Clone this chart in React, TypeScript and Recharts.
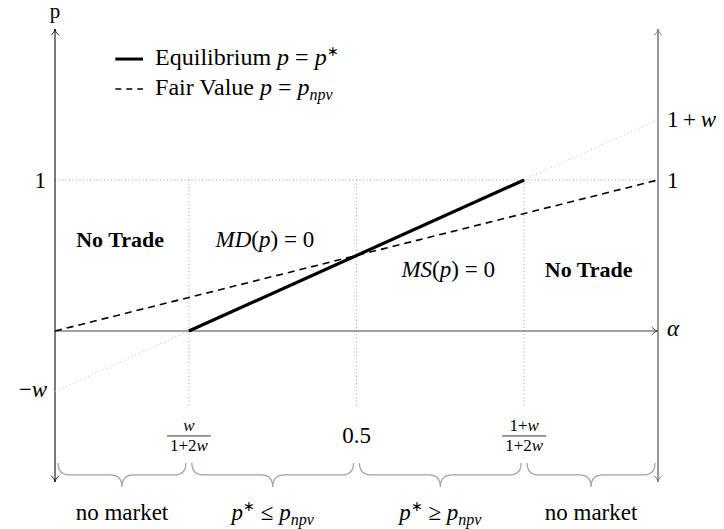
import React from "react";
import { LineChart, Line, XAxis, YAxis, ReferenceLine, ReferenceDot } from "recharts";

// values (w is about 0.4)
const equilibrium = [
  { alpha: 0.222, p: 0 },
  { alpha: 0.778, p: 1 },
];
const fairValue = [
  { alpha: 0, p: 0 },
  { alpha: 1, p: 1 },
];
const clearingLine = [
  { alpha: 0, p: -0.4 },
  { alpha: 1, p: 1.4 },
];
const cutoffs = [0.222, 0.5, 0.778];
const regionEdges = [0, 0.222, 0.5, 0.778, 1];
const regionLabels = ["no market", "p* ≤ p_npv", "p* ≥ p_npv", "no market"];

const FONT = "'Liberation Serif', 'Times New Roman', serif";
const BRACE_Y = -0.874;
const BOTTOM_Y = -1.252;
const TICK_Y = -0.695;

function head(tx: number, ty: number, ux: number, uy: number, color: string, key: string) {
  const nx = -uy, ny = ux;
  const L = 6, H = 3.6;
  const bx = tx - ux * L, by = ty - uy * L;
  const cx = tx - ux * 3, cy = ty - uy * 3;
  return (
    <path key={key}
      d={`M ${bx + nx * H} ${by + ny * H} Q ${cx} ${cy} ${tx} ${ty} Q ${cx} ${cy} ${bx - nx * H} ${by - ny * H}`}
      fill="none" stroke={color} strokeWidth={1} strokeLinecap="round" />
  );
}

function axisShape(color: string, width: number, startArrow: boolean, endArrow: boolean) {
  return (props: any) => {
    const { x1, y1, x2, y2 } = props;
    const len = Math.hypot(x2 - x1, y2 - y1) || 1;
    const ux = (x2 - x1) / len, uy = (y2 - y1) / len;
    return (
      <g>
        <line x1={x1} y1={y1} x2={x2} y2={y2} stroke={color} strokeWidth={width} />
        {startArrow && head(x1, y1, -ux, -uy, color, "s")}
        {endArrow && head(x2, y2, ux, uy, color, "e")}
      </g>
    );
  };
}

function braceShape(props: any) {
  const { x1, x2, y1 } = props;
  const a = x1 + 3, b = x2 - 3, m = (a + b) / 2;
  const y0 = y1, yb = y1 + 12, yt = y1 + 24, r = 12;
  const d = `M ${a} ${y0} Q ${a} ${yb} ${a + r} ${yb} L ${m - r} ${yb} Q ${m} ${yb} ${m} ${yt} ` +
    `Q ${m} ${yb} ${m + r} ${yb} L ${b - r} ${yb} Q ${b} ${yb} ${b} ${y0}`;
  return <path d={d} fill="none" stroke="#a0a0a0" strokeWidth={1.2} />;
}

function label(key: string, x: number, y: number, content: React.ReactNode,
  opt: { dx?: number; dy?: number; anchor?: string; size?: number; bold?: boolean; italic?: boolean } = {}) {
  const { dx = 0, dy = 0, anchor = "middle", size = 23, bold = false, italic = false } = opt;
  return (
    <ReferenceDot key={key} x={x} y={y} r={0} ifOverflow="visible"
      shape={(p: any) => (
        <text x={p.cx + dx} y={p.cy + dy} textAnchor={anchor} fontFamily={FONT} fontSize={size}
          fontWeight={bold ? 700 : 400} fontStyle={italic ? "italic" : "normal"} fill="#000">
          {content}
        </text>
      )} />
  );
}

function fraction(key: string, x: number, y: number, num: React.ReactNode, den: React.ReactNode, w: number) {
  return (
    <ReferenceDot key={key} x={x} y={y} r={0} ifOverflow="visible"
      shape={(p: any) => (
        <g fontFamily={FONT} fontSize={17}>
          <text x={p.cx} y={p.cy - 5} textAnchor="middle">{num}</text>
          <line x1={p.cx - w / 2} x2={p.cx + w / 2} y1={p.cy} y2={p.cy} stroke="#000" strokeWidth={0.8} />
          <text x={p.cx} y={p.cy + 15} textAnchor="middle">{den}</text>
        </g>
      )} />
  );
}

const I = ({ children }: { children: React.ReactNode }) => <tspan fontStyle="italic">{children}</tspan>;

function regionText(s: string) {
  if (!s.startsWith("p*")) return s;
  const rel = s.includes("≤") ? "≤" : "≥";
  return (
    <>
      <I>p</I>
      <tspan dy={-9} fontSize={14}>∗</tspan>
      <tspan dy={9}> {rel} </tspan>
      <I>p</I>
      <tspan dy={5} fontSize={16} fontStyle="italic">npv</tspan>
    </>
  );
}

export default function App() {
  return (
    <div>
      <style>{`svg.recharts-surface { overflow: visible !important; }`}</style>
      <LineChart width={708} height={521} margin={{ top: 21, right: 58, bottom: 47, left: 47 }}>
        <XAxis type="number" dataKey="alpha" domain={[0, 1]} allowDataOverflow hide />
        <YAxis type="number" domain={[-1, 2]} allowDataOverflow hide />

        {/* dotted guides */}
        <ReferenceLine segment={[{ x: 0, y: 1 }, { x: 1, y: 1 }]} stroke="#999" strokeWidth={1}
          strokeDasharray="1 2.5" ifOverflow="visible" />
        {cutoffs.map((c) => (
          <ReferenceLine key={`cut-${c}`} segment={[{ x: c, y: 1 }, { x: c, y: -0.5 }]} stroke="#aaa"
            strokeWidth={1} strokeDasharray="1 2.5" ifOverflow="visible" />
        ))}

        {/* axes */}
        <ReferenceLine segment={[{ x: 0, y: 0 }, { x: 1, y: 0 }]} ifOverflow="visible"
          shape={axisShape("#444", 1.2, false, true)} />
        <ReferenceLine segment={[{ x: 0, y: -1 }, { x: 0, y: 2 }]} ifOverflow="visible"
          shape={axisShape("#222", 1.2, true, true)} />
        <ReferenceLine segment={[{ x: 1, y: -1 }, { x: 1, y: 2 }]} ifOverflow="visible"
          shape={axisShape("#808080", 1.6, true, true)} />

        <Line data={clearingLine} dataKey="p" type="linear" stroke="#bbb" strokeWidth={1}
          strokeDasharray="1 3" dot={false} activeDot={false} isAnimationActive={false} />
        <Line data={fairValue} dataKey="p" type="linear" stroke="#000" strokeWidth={1.6}
          strokeDasharray="7 5" dot={false} activeDot={false} isAnimationActive={false} />
        <Line data={equilibrium} dataKey="p" type="linear" stroke="#000" strokeWidth={3.2}
          dot={false} activeDot={false} isAnimationActive={false} />

        {/* legend */}
        <ReferenceLine segment={[{ x: 0.1, y: 1.801 }, { x: 0.146, y: 1.801 }]} stroke="#000"
          strokeWidth={3} ifOverflow="visible" />
        <ReferenceLine segment={[{ x: 0.1, y: 1.603 }, { x: 0.146, y: 1.603 }]} stroke="#000"
          strokeWidth={1.5} strokeDasharray="6 5" ifOverflow="visible" />
        {label("leg1", 0.166, 1.801, <>Equilibrium <I>p</I> = <I>p</I><tspan dy={-9} fontSize={14}>∗</tspan></>,
          { anchor: "start", dy: 6, size: 24 })}
        {label("leg2", 0.166, 1.603, <>Fair Value <I>p</I> = <I>p</I><tspan dy={5} fontSize={16} fontStyle="italic">npv</tspan></>,
          { anchor: "start", dy: 6, size: 24 })}

        {/* axis labels */}
        {label("p", 0, 2, "p", { dy: -11, size: 21 })}
        {label("one-l", 0, 1, "1", { dx: -9, dy: 8, anchor: "end" })}
        {label("mw", 0, -0.4, <>−<I>w</I></>, { dx: -8, dy: 6, anchor: "end" })}
        {label("onew", 1, 1.4, <>1{"\u2009"}+{"\u2009"}<I>w</I></>, { dx: 9, dy: 7, anchor: "start" })}
        {label("one-r", 1, 1, "1", { dx: 9, dy: 8, anchor: "start" })}
        {label("alpha", 1, 0, "α", { dx: 9, dy: 5, anchor: "start", italic: true })}

        {/* region annotations */}
        {label("nt1", 0.108, 0.603, "No Trade", { dy: 7, bold: true, size: 22 })}
        {label("md", 0.348, 0.603, <><I>MD</I>(<I>p</I>) = 0</>, { dy: 7 })}
        {label("ms", 0.652, 0.404, <><I>MS</I>(<I>p</I>) = 0</>, { dy: 7 })}
        {label("nt2", 0.885, 0.404, "No Trade", { dy: 7, bold: true, size: 22 })}

        {/* cutoff ticks */}
        {fraction("f1", cutoffs[0], TICK_Y, <I>w</I>, <>1+2<I>w</I></>, 44)}
        {label("half", cutoffs[1], TICK_Y, "0.5", { dy: 7 })}
        {fraction("f2", cutoffs[2], TICK_Y, <>1+<I>w</I></>, <>1+2<I>w</I></>, 44)}

        {/* braces and region names */}
        {regionLabels.map((r, i) => (
          <ReferenceLine key={`brace-${i}`} ifOverflow="visible" shape={braceShape}
            segment={[{ x: regionEdges[i], y: BRACE_Y }, { x: regionEdges[i + 1], y: BRACE_Y }]} />
        ))}
        {regionLabels.map((r, i) =>
          label(`rl-${i}`, (regionEdges[i] + regionEdges[i + 1]) / 2, BOTTOM_Y, regionText(r)))}
      </LineChart>
    </div>
  );
}
